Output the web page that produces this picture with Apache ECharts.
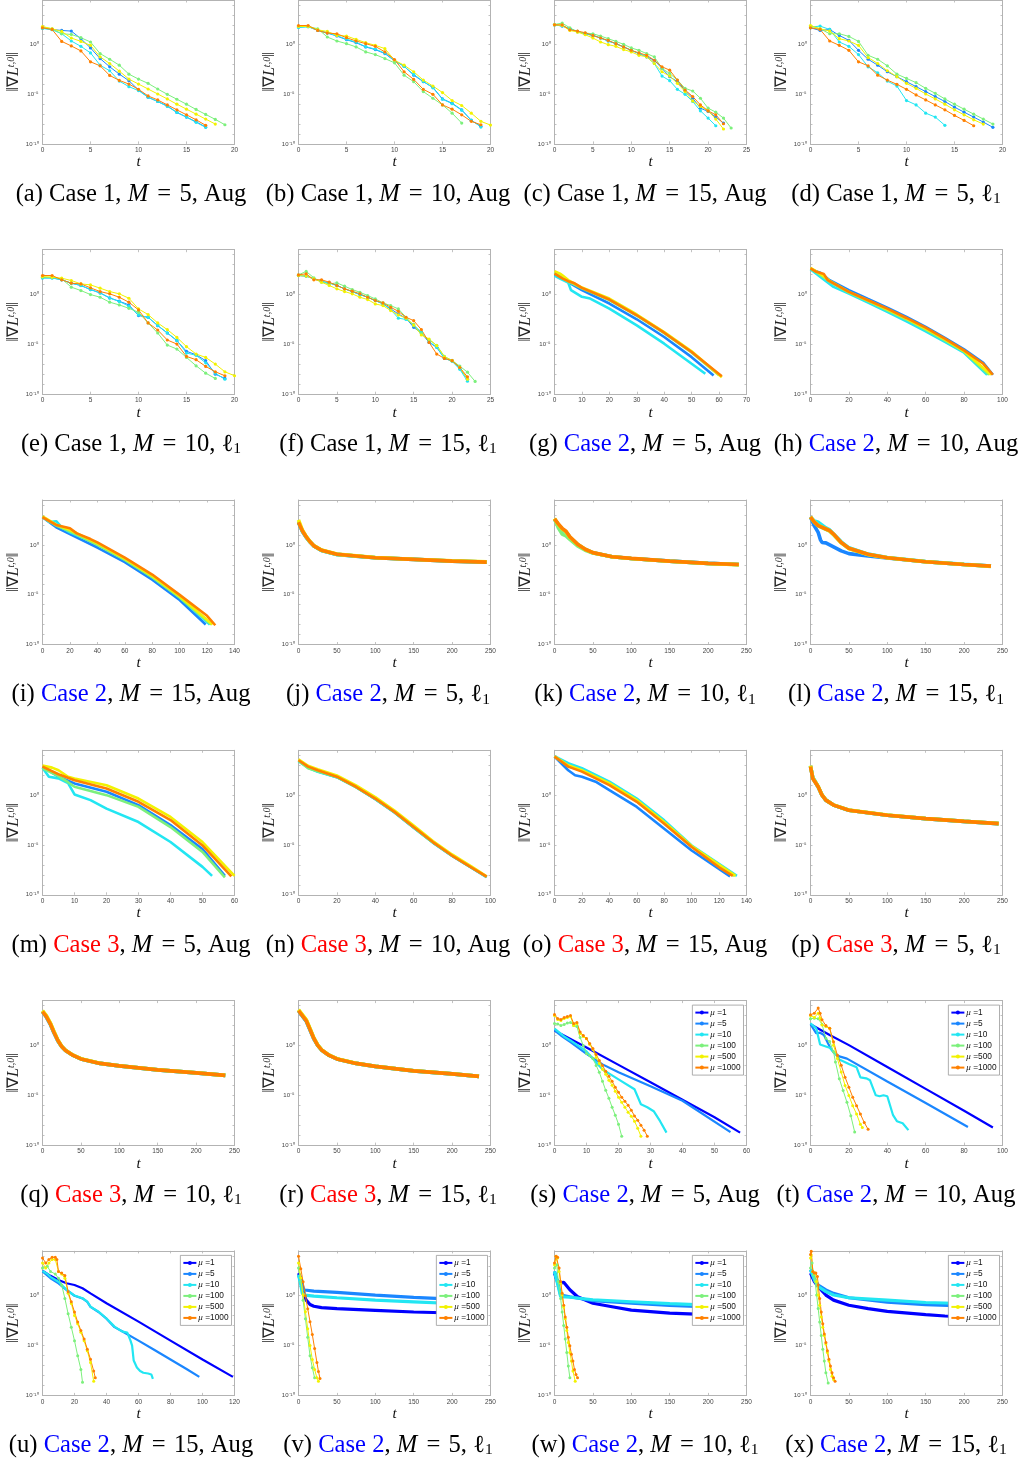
<!DOCTYPE html>
<html><head><meta charset="utf-8">
<script src="https://cdn.jsdelivr.net/npm/echarts/dist/echarts.min.js"></script>
<style>html,body{margin:0;padding:0;background:#fff}#c{width:1029px;height:1464px}</style>
</head><body><div id="c"></div>
<script>
// ---- values are log10 of ||grad L^{t,0}|| ; dense arrays: index = t ; pairs: [t, log10 value]
const yTickLabels = {'0':'10⁰','-5':'10⁻⁵','-10':'10⁻¹⁰'};
const muNames = ['μ =1','μ =5','μ =10','μ =100','μ =500','μ =1000'];

// (a)
const A_b=[1.67,1.53,1.43,1.37,0.6,-0.33,-1.4,-2.23,-2.97,-3.63,-4.57,-5.3,-5.73,-6.17,-6.83,-7.3,-7.77,-8.3];
const A_c=[1.63,1.5,1.1,0.37,-0.17,-0.83,-2.07,-2.63,-3.67,-4.23,-4.63,-5.3,-5.73,-6.23,-6.83,-7.3,-7.83,-8.33];
const A_g=[1.77,1.6,1.1,1.03,0.7,0.27,-0.9,-1.47,-2.07,-2.97,-3.47,-3.9,-4.47,-5.0,-5.5,-6.0,-6.53,-7.03,-7.53,-8.07];
const A_y=[1.83,1.6,1.33,0.67,0.33,-0.07,-1.23,-1.9,-2.67,-3.47,-3.97,-4.47,-4.97,-5.47,-6.0,-6.5,-7.0,-7.5,-8.0];
const A_o=[1.7,1.53,0.33,-0.13,-0.63,-1.73,-2.13,-3.1,-3.6,-3.97,-4.5,-5.17,-5.57,-6.07,-6.57,-7.07,-7.57,-8.13];
// (b)
const B_b=[1.77,1.83,1.43,1.17,0.87,0.5,0.2,-0.23,-0.5,-0.9,-1.63,-2.17,-3.07,-3.73,-4.3,-5.47,-5.9,-6.57,-7.63,-8.23];
const B_c=[1.73,1.8,1.45,1.2,0.9,0.55,0.25,-0.2,-0.45,-0.85,-1.6,-2.2,-3.0,-3.7,-4.35,-5.5,-5.95,-6.6,-7.6,-8.3];
const B_g=[1.87,1.83,1.6,0.77,0.37,0.1,-0.23,-0.73,-1.0,-1.4,-1.83,-3.07,-3.73,-4.73,-5.4,-6.07,-6.9,-7.9];
const B_y=[1.83,1.83,1.5,1.33,0.93,0.87,0.53,0.2,-0.07,-0.4,-1.57,-2.07,-2.73,-3.57,-4.17,-4.83,-5.63,-6.13,-6.9,-7.73,-8.1];
const B_o=[1.93,1.93,1.43,1.17,1.1,0.7,0.37,0.1,-0.17,-0.73,-1.5,-2.73,-3.5,-4.5,-5.0,-6.07,-6.5,-7.07,-7.73,-8.07];
// (c)
const C_b=[2.0,1.87,1.6,1.33,1.1,0.93,0.67,0.37,0.1,-0.23,-0.57,-0.9,-1.23,-1.57,-2.4,-3.23,-3.73,-4.63,-5.4,-6.4,-6.73,-7.3,-7.9];
const C_c=[1.97,1.9,1.6,1.33,1.1,0.93,0.67,0.37,0.1,-0.23,-0.57,-0.9,-1.23,-1.9,-3.17,-3.63,-4.5,-5.0,-5.73,-6.67,-7.4,-8.17];
const C_g=[2.03,2.17,1.7,1.27,1.17,1.1,0.87,0.6,0.33,0.03,-0.33,-0.57,-0.9,-1.23,-2.4,-2.9,-3.57,-4.4,-4.67,-5.4,-6.4,-6.8,-7.4,-8.4];
const C_y=[2.0,1.93,1.43,1.27,1.0,0.67,0.27,0.0,-0.17,-0.5,-0.73,-1.07,-1.23,-1.9,-2.73,-3.17,-3.9,-4.73,-5.67,-6.23,-6.67,-7.5,-8.5];
const C_o=[2.0,2.0,1.5,1.37,1.2,0.93,0.67,0.43,0.1,-0.23,-0.57,-0.83,-1.07,-1.57,-2.23,-2.57,-3.57,-4.57,-5.23,-6.07,-6.67,-7.07,-7.97];
// (d)
const D_b=[1.7,1.43,1.53,0.93,0.43,-0.57,-1.47,-2.07,-2.73,-3.23,-3.73,-4.23,-4.73,-5.23,-5.73,-6.3,-6.8,-7.3,-7.8,-8.33];
const D_c=[1.77,1.87,1.53,0.27,-0.17,-1.0,-2.23,-2.83,-3.67,-4.17,-5.63,-6.07,-6.9,-7.3,-8.13];
const D_g=[1.87,1.6,1.1,1.1,0.83,0.33,-1.07,-1.47,-2.13,-2.97,-3.4,-3.83,-4.4,-4.9,-5.47,-6.0,-6.5,-7.0,-7.5,-8.0];
const D_y=[1.93,1.6,1.37,0.6,0.37,-0.07,-1.3,-1.9,-2.63,-3.23,-3.9,-4.4,-4.97,-5.47,-6.0,-6.57,-7.07,-7.57,-8.0];
const D_o=[1.7,1.53,0.37,-0.07,-0.57,-1.73,-2.13,-3.07,-3.57,-4.0,-4.5,-5.07,-5.57,-6.07,-6.57,-7.13,-7.63,-8.17];
// (e)
const E_b=[1.68,1.68,1.48,1.14,0.91,0.5,0.17,-0.34,-0.67,-1.04,-2.11,-2.28,-3.12,-3.86,-4.63,-5.7,-6.04,-6.64,-7.99,-8.42];
const E_c=[1.65,1.65,1.48,1.14,0.9,0.5,0.15,-0.35,-0.7,-1.17,-2.05,-2.3,-3.1,-3.85,-4.6,-5.87,-6.1,-6.85,-7.9,-8.5];
const E_g=[1.74,1.74,1.58,0.74,0.4,0,-0.27,-0.77,-1.04,-1.38,-1.78,-2.85,-3.86,-5.07,-5.47,-6.31,-7.15,-7.89,-8.42];
const E_y=[1.81,1.74,1.64,1.41,1.07,0.97,0.64,0.3,0.07,-0.37,-1.44,-2.01,-2.85,-3.52,-4.3,-5.23,-5.97,-6.31,-6.98,-7.75,-8.15];
const E_o=[1.91,1.91,1.48,1.14,1.07,0.67,0.3,0.07,-0.27,-0.77,-1.54,-2.85,-3.56,-4.56,-4.97,-6.21,-6.54,-7.21,-7.75,-8.15];
// (f)
const F_b=[1.91,1.85,1.58,1.31,1.17,0.91,0.57,0.3,0,-0.27,-0.6,-0.94,-1.44,-1.95,-2.38,-3.29,-3.86,-4.8,-5.3,-6.41,-6.64,-7.42,-8.49];
const F_c=[1.91,1.85,1.58,1.31,1.17,0.91,0.57,0.3,0,-0.27,-0.6,-0.94,-1.5,-2.37,-2.5,-3.0,-3.8,-4.7,-5.3,-6.4,-6.7,-7.5,-8.7];
const F_g=[1.98,2.32,1.68,1.24,1.07,1.17,0.84,0.5,0.23,-0.1,-0.44,-0.84,-1.11,-1.44,-2.28,-3.12,-3.93,-4.53,-5.1,-6.21,-6.61,-7.18,-7.79,-8.72];
const F_y=[1.91,1.85,1.58,1.24,0.91,0.57,0.3,0.07,-0.27,-0.5,-0.94,-1.11,-1.61,-2.05,-2.38,-3.05,-4.06,-4.46,-5.13,-6.24,-6.64,-7.32,-8.49];
const F_o=[1.98,2.08,1.48,1.48,1.24,0.91,0.57,0.34,0.07,-0.27,-0.6,-0.84,-1.28,-1.68,-2.28,-2.62,-3.52,-4.8,-5.97,-6.41,-6.64,-7.32,-8.26];
// (g)
const G_b=[[0,2.0],[3,1.6],[5,1.25],[10,0.44],[20,-0.9],[30,-2.48],[40,-4.26],[50,-6.28],[58,-8.12]];
const G_c=[[0,1.9],[2,1.6],[5,1.2],[6,0.44],[10,-0.23],[13,-0.4],[20,-1.41],[30,-3.09],[40,-4.93],[50,-6.95],[55,-7.95]];
const G_g=[[0,2.2],[3,1.65],[5,1.3],[10,0.62],[20,-0.55],[30,-2.12],[40,-3.88],[50,-5.82],[60,-8.1]];
const G_y=[[0,2.35],[2,2.1],[3,1.9],[5,1.45],[10,0.7],[20,-0.4],[30,-2.0],[40,-3.76],[50,-5.7],[61,-8.29]];
const G_o=[[0,2.1],[3,1.6],[5,1.34],[7,1.17],[10,0.67],[20,-0.5],[30,-2.08],[40,-3.83],[50,-5.77],[61,-8.19]];
// (h)
const H_b=[[0,2.55],[5,2.2],[10,1.44],[20,0.44],[30,-0.45],[40,-1.31],[50,-2.25],[60,-3.25],[70,-4.35],[80,-5.5],[90,-6.85],[95,-8.05]];
const H_c=[[0,2.55],[5,1.78],[12,0.77],[20,0.1],[30,-0.8],[40,-1.74],[50,-2.7],[60,-3.69],[70,-4.75],[80,-5.84],[92,-8.05]];
const H_g=[[0,2.62],[5,2.0],[10,1.3],[20,0.2],[30,-0.65],[40,-1.58],[50,-2.5],[60,-3.52],[70,-4.6],[80,-5.74],[93,-8.05]];
const H_y=[[0,2.68],[5,2.1],[10,1.38],[20,0.27],[30,-0.6],[40,-1.48],[50,-2.42],[60,-3.42],[70,-4.5],[80,-5.67],[94,-8.05]];
const H_o=[[0,2.62],[3,2.28],[7,2.05],[9,1.44],[12,1.11],[20,0.27],[30,-0.57],[40,-1.41],[50,-2.35],[60,-3.32],[70,-4.43],[80,-5.6],[90,-6.95],[95,-8.05]];
// (i)
const I_b=[[0,2.78],[10,1.76],[20,1.08],[40,-0.27],[60,-1.73],[80,-3.49],[100,-5.53],[119,-8.0]];
const I_c=[[0,2.85],[5,2.3],[10,2.37],[14,1.76],[20,1.25],[40,0.07],[60,-1.46],[80,-3.22],[100,-5.25],[122,-8.0]];
const I_g=[[0,2.78],[10,1.93],[20,1.36],[40,0.0],[60,-1.5],[80,-3.25],[100,-5.29],[123,-8.0]];
const I_y=[[0,2.85],[10,2.03],[20,1.49],[40,0.14],[60,-1.39],[80,-3.12],[100,-5.15],[124,-8.0]];
const I_o=[[0,2.78],[5,2.37],[10,2.0],[20,1.66],[25,1.15],[35,0.58],[40,0.24],[60,-1.29],[80,-2.98],[100,-5.02],[120,-7.12],[126,-8.07]];
// (j)
const J_b=[[0,2.25],[5,1.35],[10,0.76],[15,0.28],[20,-0.12],[30,-0.56],[50,-0.96],[75,-1.13],[100,-1.3],[150,-1.46],[200,-1.63],[245,-1.73]];
const J_c=[[0,2.3],[5,1.4],[10,0.8],[15,0.3],[20,-0.1],[30,-0.55],[50,-0.96],[75,-1.12],[100,-1.28],[150,-1.45],[200,-1.62],[245,-1.72]];
const J_g=[[0,2.35],[5,1.38],[10,0.78],[15,0.28],[20,-0.12],[30,-0.56],[50,-0.97],[75,-1.13],[100,-1.3],[150,-1.47],[200,-1.64],[245,-1.74]];
const J_y=[[0,2.5],[5,1.5],[10,0.85],[15,0.33],[20,-0.08],[30,-0.52],[50,-0.93],[75,-1.1],[100,-1.27],[150,-1.44],[200,-1.6],[245,-1.7]];
const J_o=[[0,2.27],[5,1.42],[10,0.81],[15,0.31],[20,-0.1],[30,-0.54],[50,-0.95],[75,-1.12],[100,-1.29],[150,-1.46],[200,-1.63],[245,-1.73]];
// (k)
const K_b=[[0,2.58],[5,2.02],[10,1.58],[15,1.28],[20,0.76],[30,0.04],[40,-0.46],[50,-0.8],[75,-1.2],[100,-1.37],[150,-1.63],[200,-1.86],[240,-1.97]];
const K_c=[[0,2.58],[5,2.0],[10,1.55],[15,1.25],[20,0.75],[30,0.03],[40,-0.46],[50,-0.8],[75,-1.2],[100,-1.37],[150,-1.63],[200,-1.86],[240,-1.97]];
const K_g=[[0,2.61],[5,1.7],[10,1.08],[15,0.9],[20,0.55],[30,-0.1],[40,-0.54],[50,-0.82],[75,-1.2],[100,-1.37],[150,-1.64],[200,-1.87],[240,-1.98]];
const K_y=[[0,2.65],[5,2.05],[10,1.6],[15,1.3],[20,0.78],[30,0.05],[40,-0.45],[50,-0.79],[75,-1.2],[100,-1.37],[150,-1.64],[200,-1.87],[240,-1.98]];
const K_o=[[0,2.61],[5,2.1],[10,1.66],[15,1.36],[20,0.81],[30,0.07],[40,-0.44],[50,-0.78],[75,-1.19],[100,-1.36],[150,-1.63],[200,-1.86],[240,-1.97]];
// (l)
const L_b=[[0,2.78],[5,1.9],[10,1.25],[13,0.5],[15,0.24],[20,0.2],[25,0.0],[30,-0.2],[40,-0.61],[50,-0.88],[75,-1.12],[100,-1.32],[150,-1.69],[200,-1.97],[235,-2.14]];
const L_c=[[0,2.78],[5,2.4],[10,2.27],[20,1.7],[25,1.5],[30,1.1],[40,0.3],[50,-0.3],[75,-0.93],[100,-1.28],[150,-1.68],[200,-1.96],[235,-2.12]];
const L_g=[[0,2.75],[5,2.25],[10,1.9],[20,1.55],[25,1.38],[30,1.02],[40,0.2],[50,-0.36],[75,-0.97],[100,-1.3],[150,-1.7],[200,-1.98],[235,-2.16]];
const L_y=[[0,2.8],[5,2.3],[10,1.95],[20,1.6],[25,1.4],[30,1.05],[40,0.22],[50,-0.36],[75,-0.96],[100,-1.3],[150,-1.7],[200,-1.98],[235,-2.15]];
const L_o=[[0,2.78],[5,2.27],[10,1.93],[20,1.59],[25,1.42],[30,1.08],[40,0.24],[50,-0.34],[75,-0.95],[100,-1.29],[150,-1.69],[200,-1.97],[235,-2.14]];
// (m)
const M_b=[[0,2.86],[5,1.85],[10,1.18],[20,0.34],[30,-1.0],[40,-3.0],[50,-5.4],[57,-8.1]];
const M_c=[[0,2.75],[2,1.85],[5,1.68],[8,1.2],[10,0.07],[15,-0.5],[20,-1.35],[30,-2.7],[40,-4.7],[50,-7.2],[53,-8.1]];
const M_g=[[0,2.7],[5,1.9],[8,1.3],[10,0.84],[20,0],[30,-1.18],[40,-3.2],[50,-5.7],[57,-8.25]];
const M_y=[[0,2.96],[3,2.76],[5,2.5],[8,1.85],[10,1.68],[20,1.0],[30,-0.34],[40,-2.19],[50,-4.71],[60,-8.1]];
const M_o=[[0,2.86],[5,2.1],[10,1.5],[20,0.67],[30,-0.67],[40,-2.5],[50,-5.05],[59,-8.15]];
// (n)
const N_b=[[0,3.45],[5,2.8],[10,2.4],[20,1.8],[30,0.8],[40,-0.4],[50,-1.74],[60,-3.26],[70,-4.76],[80,-6.1],[90,-7.28],[98,-8.22]];
const N_c=[[0,3.4],[5,2.75],[10,2.35],[20,1.8],[30,0.8],[40,-0.38],[50,-1.72],[60,-3.24],[70,-4.74],[80,-6.08],[90,-7.26],[98,-8.2]];
const N_g=[[0,3.45],[5,2.7],[10,2.4],[20,1.82],[30,0.8],[40,-0.38],[50,-1.72],[60,-3.24],[70,-4.74],[80,-6.08],[90,-7.26],[98,-8.2]];
const N_y=[[0,3.6],[5,2.95],[10,2.6],[20,1.97],[30,0.97],[40,-0.2],[50,-1.55],[60,-3.05],[70,-4.6],[80,-5.95],[90,-7.15],[98,-8.15]];
const N_o=[[0,3.5],[5,2.86],[10,2.5],[20,1.85],[30,0.84],[40,-0.34],[50,-1.68],[60,-3.2],[70,-4.71],[80,-6.06],[90,-7.24],[98,-8.18]];
// (o)
const O_b=[[0,3.87],[10,2.5],[15,2.0],[20,1.85],[30,1.35],[40,0.5],[60,-1.18],[80,-3.37],[100,-5.55],[128,-8.15]];
const O_c=[[0,3.9],[10,3.2],[20,2.7],[40,1.35],[60,-0.34],[80,-2.53],[100,-5.05],[133,-8.1]];
const O_g=[[0,3.85],[10,2.9],[20,2.45],[40,1.1],[60,-0.6],[80,-2.8],[100,-5.15],[131,-8.1]];
const O_y=[[0,3.9],[10,3.0],[20,2.5],[40,1.2],[60,-0.5],[80,-2.7],[100,-5.1],[132,-8.1]];
const O_o=[[0,3.87],[5,3.37],[10,2.86],[20,2.36],[40,1.0],[60,-0.67],[80,-2.86],[100,-5.2],[120,-7.24],[130,-8.1]];
// (p)
const P_b=[[0,2.9],[3,1.7],[5,1.5],[10,0.82],[15,0],[20,-0.5],[30,-1.0],[50,-1.52],[100,-2.02],[150,-2.36],[200,-2.63],[245,-2.86]];
const P_c=[[0,2.9],[3,1.75],[5,1.52],[10,0.84],[15,0.02],[20,-0.5],[30,-1.0],[50,-1.52],[100,-2.02],[150,-2.36],[200,-2.63],[245,-2.86]];
const P_g=[[0,2.95],[3,1.72],[5,1.5],[10,0.84],[15,0],[20,-0.5],[30,-1.0],[50,-1.52],[100,-2.02],[150,-2.36],[200,-2.63],[245,-2.86]];
const P_y=[[0,2.95],[3,1.7],[5,1.5],[10,0.86],[15,0.02],[20,-0.48],[30,-0.98],[50,-1.5],[100,-2.0],[150,-2.35],[200,-2.62],[245,-2.85]];
const P_o=[[0,2.86],[3,1.68],[5,1.5],[10,0.84],[15,0],[20,-0.5],[30,-1.0],[50,-1.52],[100,-2.02],[150,-2.36],[200,-2.63],[245,-2.86]];
// (q)
const Q_b=[[0,3.4],[5,2.85],[10,2.15],[15,1.25],[20,0.45],[25,-0.12],[30,-0.5],[40,-1.0],[50,-1.35],[75,-1.8],[100,-2.05],[150,-2.45],[200,-2.75],[238,-3.0]];
const Q_c=[[0,3.4],[5,2.9],[10,2.2],[15,1.3],[20,0.5],[25,-0.1],[30,-0.5],[40,-1.0],[50,-1.35],[75,-1.8],[100,-2.05],[150,-2.45],[200,-2.75],[238,-3.0]];
const Q_g=[[0,3.45],[5,2.95],[10,2.25],[15,1.35],[20,0.5],[25,-0.1],[30,-0.5],[40,-1.0],[50,-1.35],[75,-1.8],[100,-2.05],[150,-2.45],[200,-2.75],[238,-3.0]];
const Q_y=[[0,3.5],[5,3.0],[10,2.3],[15,1.4],[20,0.55],[25,-0.08],[30,-0.48],[40,-0.98],[50,-1.33],[75,-1.78],[100,-2.04],[150,-2.44],[200,-2.74],[238,-3.0]];
const Q_o=[[0,3.4],[5,2.9],[10,2.2],[15,1.3],[20,0.5],[25,-0.1],[30,-0.5],[40,-1.0],[50,-1.35],[75,-1.8],[100,-2.05],[150,-2.45],[200,-2.75],[238,-3.0]];
// (r)
const R_b=[[0,3.5],[5,2.95],[10,2.45],[15,1.55],[20,0.65],[25,0.0],[30,-0.45],[40,-1.0],[50,-1.35],[75,-1.8],[100,-2.1],[150,-2.55],[200,-2.85],[235,-3.1]];
const R_c=[[0,3.5],[5,3.0],[10,2.5],[15,1.6],[20,0.7],[25,0.02],[30,-0.45],[40,-1.0],[50,-1.35],[75,-1.8],[100,-2.1],[150,-2.55],[200,-2.85],[235,-3.1]];
const R_g=[[0,3.55],[5,3.05],[10,2.55],[15,1.65],[20,0.72],[25,0.02],[30,-0.45],[40,-1.0],[50,-1.35],[75,-1.8],[100,-2.1],[150,-2.55],[200,-2.85],[235,-3.1]];
const R_y=[[0,3.6],[5,3.1],[10,2.6],[15,1.7],[20,0.75],[25,0.05],[30,-0.43],[40,-0.98],[50,-1.33],[75,-1.78],[100,-2.08],[150,-2.54],[200,-2.84],[235,-3.1]];
const R_o=[[0,3.5],[5,3.0],[10,2.5],[15,1.6],[20,0.7],[25,0.0],[30,-0.45],[40,-1.0],[50,-1.35],[75,-1.8],[100,-2.1],[150,-2.55],[200,-2.85],[235,-3.1]];
// (s)
const S_1=[[0,1.5],[10,-0.2],[20,-1.95],[30,-3.7],[40,-5.45],[50,-7.2],[58,-8.75]];
const S_5=[[0,1.5],[2,1.0],[5,0.34],[10,-0.84],[15,-1.9],[20,-2.7],[30,-4.1],[40,-5.55],[55,-8.7]];
const S_10=[[0,1.68],[3,0.9],[5,0.5],[10,-0.6],[13,-1.7],[15,-2.4],[20,-3.4],[25,-4.4],[27,-5.9],[29,-6.2],[30,-6.4],[31,-6.6],[33,-7.6],[35,-8.75]];
const S_100=[[0,2.2],[1,2.15],[2,2.0],[3,2.1],[4,2.25],[5,2.3],[6,2.0],[7,1.9],[8,0.8],[9,0.0],[10,-0.8],[11,-1.0],[12,-1.3],[13,-2.0],[14,-2.7],[15,-3.6],[16,-4.5],[17,-5.3],[18,-6.2],[19,-7.0],[20,-7.9],[21,-9.1]];
const S_500=[[0,3.0],[1,2.6],[2,2.5],[3,2.7],[4,2.8],[5,2.9],[6,2.0],[7,2.2],[8,1.2],[9,0.9],[10,0.67],[11,0.1],[12,-0.4],[13,-1.2],[14,-1.8],[15,-2.4],[16,-2.9],[17,-3.5],[18,-4.0],[19,-4.6],[20,-5.2],[21,-5.7],[22,-6.2],[23,-6.7],[24,-7.1],[25,-7.6],[26,-8.3],[27,-9.1]];
const S_1000=[[0,3.1],[1,2.7],[2,2.6],[3,2.8],[4,2.9],[5,3.0],[6,2.2],[7,2.3],[8,1.35],[9,1.0],[10,0.7],[11,0.2],[12,-0.3],[13,-0.9],[14,-1.5],[15,-2.0],[16,-2.6],[17,-3.1],[18,-3.6],[19,-4.2],[20,-4.7],[21,-5.2],[22,-5.6],[23,-6.0],[24,-6.5],[25,-7.07],[26,-7.5],[27,-8.0],[28,-8.5],[29,-9.1]];
// (t)
const T_1=[[0,2.13],[10,1.05],[20,0.03],[40,-2.16],[60,-4.36],[80,-6.55],[95,-8.24]];
const T_5=[[0,2.13],[3,1.22],[5,1.28],[7,1.05],[10,-0.14],[12,-0.7],[15,-1.1],[19,-1.32],[40,-3.61],[60,-5.78],[82,-8.18]];
const T_10=[[0,2.23],[3,1.72],[5,0.1],[8,-0.1],[10,-0.24],[13,-0.85],[15,-1.4],[20,-1.85],[24,-2.2],[26,-3.2],[29,-3.3],[31,-3.5],[34,-5.0],[36,-5.1],[38,-5.0],[40,-5.1],[43,-7.0],[45,-7.6],[48,-7.8],[51,-8.5]];
const T_100=[[0,2.67],[2,2.74],[4,2.67],[6,2.13],[8,0.71],[10,0.4],[12,-0.64],[13,-1.66],[15,-3.34],[17,-4.53],[19,-5.71],[21,-7.06],[23,-8.68]];
const T_500=[[0,3.0],[2,2.8],[4,3.24],[5,2.74],[6,2.06],[8,1.89],[10,1.72],[12,0.03],[14,-1.32],[16,-2.67],[18,-4.02],[20,-5.03],[22,-6.05],[24,-6.89],[26,-7.91],[27,-8.24]];
const T_1000=[[0,3.07],[2,3.24],[4,3.75],[5,3.24],[6,2.57],[8,2.0],[10,1.72],[12,0.37],[14,-0.98],[16,-1.99],[18,-3.18],[20,-4.19],[22,-5.2],[24,-6.05],[26,-6.89],[28,-7.74],[30,-8.41]];
// (u)
const U_1=[[0,2.51],[5,2.0],[10,1.59],[15,1.25],[20,1.08],[25,0.75],[30,0.24],[40,-0.75],[60,-2.6],[80,-4.5],[100,-6.4],[119,-8.14]];
const U_5=[[0,2.44],[5,1.76],[10,1.25],[15,0.58],[20,0.0],[25,-0.27],[28,-0.61],[30,-1.12],[35,-1.63],[40,-2.3],[45,-3.15],[50,-3.59],[60,-4.5],[70,-5.45],[80,-6.4],[90,-7.35],[98,-8.14]];
const U_10=[[0,2.5],[3,2.2],[5,1.9],[10,1.4],[15,0.6],[20,0.02],[25,-0.25],[28,-0.6],[30,-1.1],[35,-1.6],[40,-2.28],[45,-3.1],[50,-3.6],[53,-3.7],[55,-4.5],[56,-5.0],[57,-6.5],[58,-6.7],[59,-7.2],[61,-7.56],[63,-7.73],[66,-7.8],[68,-7.9],[69,-8.34]];
const U_100=[[0,2.78],[3,2.95],[5,2.44],[8,2.17],[10,1.76],[12,1.08],[14,-0.27],[16,-1.8],[18,-3.15],[20,-4.51],[22,-6.03],[24,-7.39],[25,-8.68]];
const U_500=[[0,3.29],[2,2.78],[4,3.29],[6,3.63],[8,3.63],[10,2.44],[12,2.17],[14,1.76],[16,0.24],[18,-0.78],[20,-1.97],[22,-2.81],[24,-3.66],[26,-4.51],[28,-5.53],[30,-6.71],[32,-8.58]];
const U_1000=[[0,3.8],[2,3.29],[4,3.63],[6,3.86],[8,3.86],[9,3.63],[10,2.44],[12,2.27],[14,2.03],[16,0.41],[18,-0.61],[20,-1.63],[22,-2.64],[24,-3.49],[26,-4.34],[28,-5.36],[30,-6.37],[32,-7.56],[33,-8.24]];
// (v)
const V_1=[[0,2.27],[3,1.76],[5,1.08],[8,-0.1],[10,-0.44],[15,-0.88],[20,-1.05],[30,-1.19],[50,-1.29],[100,-1.46],[150,-1.63],[200,-1.73],[245,-1.8]];
const V_5=[[0,2.1],[3,1.42],[5,0.75],[8,0.58],[20,0.47],[50,0.34],[100,0.07],[150,-0.17],[200,-0.34],[245,-0.44]];
const V_10=[[0,2.1],[3,1.08],[5,0.24],[8,0.07],[20,-0.03],[50,-0.2],[100,-0.44],[150,-0.61],[200,-0.78],[245,-0.88]];
const V_100=[[0,2.78],[3,1.42],[6,-0.44],[9,-2.3],[12,-4.17],[15,-6.03],[18,-7.22],[21,-8.24]];
const V_500=[[0,3.29],[3,1.8],[6,0.1],[9,-1.6],[12,-3.3],[15,-5.0],[18,-6.4],[21,-7.4],[24,-8.24],[26,-8.58]];
const V_1000=[[0,3.97],[3,2.7],[6,1.4],[9,0.0],[12,-1.3],[15,-2.6],[18,-3.9],[21,-5.3],[24,-6.7],[26,-7.6],[28,-8.3]];
// (w)
const W_1=[[0,2.27],[3,1.6],[7,1.3],[12,1.35],[20,0.6],[30,-0.1],[50,-0.75],[75,-1.1],[100,-1.45],[150,-1.75],[200,-1.9],[245,-2.0]];
const W_5=[[0,2.44],[5,1.08],[8,0.07],[20,-0.1],[50,-0.5],[100,-0.75],[150,-0.98],[200,-1.12],[245,-1.25]];
const W_10=[[0,2.44],[5,0.9],[8,-0.1],[20,-0.15],[50,-0.4],[100,-0.6],[150,-0.8],[200,-0.95],[245,-1.05]];
const W_100=[[0,2.78],[3,3.1],[5,1.42],[8,-0.27],[10,-1.63],[12,-2.98],[14,-4.34],[16,-5.69],[18,-7.05],[20,-8.24]];
const W_500=[[0,3.12],[2,3.97],[4,3.8],[6,2.44],[8,1.25],[10,0.07],[12,-1.12],[14,-2.3],[16,-3.49],[18,-4.68],[20,-5.69],[22,-6.54],[24,-7.56],[27,-8.58]];
const W_1000=[[0,3.29],[2,3.97],[4,3.86],[6,2.78],[8,1.42],[10,0.24],[12,-0.95],[14,-2.14],[16,-3.15],[18,-4.17],[20,-5.02],[22,-5.86],[24,-6.54],[26,-7.39],[28,-7.9],[30,-8.24]];
// (x)
const X_1=[[0,2.27],[5,1.42],[10,0.92],[20,0.07],[30,-0.44],[50,-0.95],[75,-1.29],[100,-1.56],[150,-1.9],[175,-2.03],[245,-2.24]];
const X_5=[[0,2.61],[5,1.76],[10,1.08],[20,0.58],[30,0.24],[50,-0.2],[100,-0.65],[150,-0.9],[245,-1.15]];
const X_10=[[0,2.61],[5,1.6],[10,0.92],[20,0.41],[30,0.07],[50,-0.2],[100,-0.44],[150,-0.68],[245,-0.88]];
const X_100=[[0,2.78],[2,3.29],[4,2.1],[6,1.42],[8,0.07],[10,-1.29],[12,-2.64],[14,-4.0],[16,-5.36],[18,-6.54],[20,-7.73],[23,-8.75]];
const X_500=[[0,3.8],[1,4.1],[3,2.44],[6,2.27],[8,1.42],[10,0.07],[12,-0.95],[14,-2.14],[16,-3.15],[18,-4.0],[20,-4.85],[22,-5.69],[24,-6.54],[26,-7.39],[28,-8.07],[30,-8.4]];
const X_1000=[[0,4.14],[1,4.47],[3,2.44],[5,2.27],[7,2.27],[9,1.93],[10,1.08],[12,-0.27],[14,-1.63],[16,-2.81],[18,-3.83],[20,-4.68],[22,-5.53],[24,-6.37],[26,-7.05],[28,-7.73],[30,-8.24],[32,-8.58]];

// ---- panel descriptions: [letter, case, M, method, xMax, xInterval, style, series...]
const panels = [
 ['a',1,5,'Aug',20,5,'dense',[A_b,A_c,A_g,A_y,A_o]],
 ['b',1,10,'Aug',20,5,'dense',[B_b,B_c,B_g,B_y,B_o]],
 ['c',1,15,'Aug',25,5,'dense',[C_b,C_c,C_g,C_y,C_o]],
 ['d',1,5,'l1',20,5,'dense',[D_b,D_c,D_g,D_y,D_o]],
 ['e',1,10,'l1',20,5,'dense',[E_b,E_c,E_g,E_y,E_o]],
 ['f',1,15,'l1',25,5,'dense',[F_b,F_c,F_g,F_y,F_o]],
 ['g',2,5,'Aug',70,10,'thick',[G_b,G_c,G_g,G_y,G_o]],
 ['h',2,10,'Aug',100,20,'thick',[H_b,H_c,H_g,H_y,H_o]],
 ['i',2,15,'Aug',140,20,'thick',[I_b,I_c,I_g,I_y,I_o]],
 ['j',2,5,'l1',250,50,'thicker',[J_b,J_c,J_g,J_y,J_o]],
 ['k',2,10,'l1',250,50,'thicker',[K_b,K_c,K_g,K_y,K_o]],
 ['l',2,15,'l1',250,50,'thicker',[L_b,L_c,L_g,L_y,L_o]],
 ['m',3,5,'Aug',60,10,'thick',[M_b,M_c,M_g,M_y,M_o]],
 ['n',3,10,'Aug',100,20,'thick',[N_b,N_c,N_g,N_y,N_o]],
 ['o',3,15,'Aug',140,20,'thick',[O_b,O_c,O_g,O_y,O_o]],
 ['p',3,5,'l1',250,50,'thicker',[P_b,P_c,P_g,P_y,P_o]],
 ['q',3,10,'l1',250,50,'thicker',[Q_b,Q_c,Q_g,Q_y,Q_o]],
 ['r',3,15,'l1',250,50,'thicker',[R_b,R_c,R_g,R_y,R_o]],
 ['s',2,5,'Aug',60,10,'mu',[S_1,S_5,S_10,S_100,S_500,S_1000]],
 ['t',2,10,'Aug',100,20,'mu',[T_1,T_5,T_10,T_100,T_500,T_1000]],
 ['u',2,15,'Aug',120,20,'mu',[U_1,U_5,U_10,U_100,U_500,U_1000]],
 ['v',2,5,'l1',250,50,'muLong',[V_1,V_5,V_10,V_100,V_500,V_1000]],
 ['w',2,10,'l1',250,50,'muLong',[W_1,W_5,W_10,W_100,W_500,W_1000]],
 ['x',2,15,'l1',250,50,'muLong',[X_1,X_5,X_10,X_100,X_500,X_1000]]
];

const COLORS = ['#0000ff','#1a86ff','#22e6f2','#7cf07c','#f2f200','#ff8000'];
const AX = '#b3b3b3';
const SERIF = 'Liberation Serif';
const SANS = 'Liberation Sans';
const COL_LEFT = [42.5, 298.5, 554.5, 810.5];
const PW = 192, PH = 144.5, ROW_PITCH = 250.3, ROW0 = -0.6;
const CAP_X = [131, 388, 645, 896];
const EQ = '\u2004=\u2004';

const grids=[], xAxes=[], yAxes=[], series=[], titles=[], legends=[];
panels.forEach((p,i)=>{
  const [id,cs,M,meth,xMax,xInt,style,data] = p;
  const r=Math.floor(i/4), c=i%4;
  const left=COL_LEFT[c], top=ROW0 + r*ROW_PITCH;
  grids.push({left:left, top:top, width:PW, height:PH, show:false});
  const lineAx = {show:true, onZero:false, lineStyle:{color:AX, width:1}};
  const tick = {show:true, inside:true, length:2.5, lineStyle:{color:AX, width:0.8}};
  xAxes.push({gridIndex:i, type:'value', min:0, max:xMax, interval:xInt, position:'bottom',
    axisLine:lineAx, axisTick:tick, splitLine:{show:false},
    axisLabel:{fontSize:6.5, color:'#444', margin:3, fontFamily:SANS},
    name:'t', nameLocation:'middle', nameGap:11,
    nameTextStyle:{fontFamily:SERIF, fontStyle:'italic', fontSize:15, color:'#111'}});
  xAxes.push({gridIndex:i, type:'value', min:0, max:xMax, interval:xInt, position:'top',
    axisLine:lineAx, axisTick:tick, splitLine:{show:false}, axisLabel:{show:false}});
  yAxes.push({gridIndex:i, type:'value', min:-10, max:4.5, interval:1, position:'left',
    axisLine:lineAx, axisTick:{show:true, inside:true, length:2, lineStyle:{color:AX, width:0.8}},
    splitLine:{show:false},
    axisLabel:{fontSize:6, color:'#444', margin:4, fontFamily:SANS, showMaxLabel:false,
      formatter:v=>yTickLabels[String(Math.round(v*1000)/1000)]||''},
    name:'{n|‖∇}{i|L}{s|t,0}{n|‖}', nameLocation:'middle', nameGap:14, nameRotate:90,
    nameTextStyle:{color:'#222', fontFamily:SERIF, fontSize:16,
      rich:{n:{fontFamily:SERIF,fontSize:16,color:'#222'},
            i:{fontFamily:SERIF,fontSize:16,fontStyle:'italic',color:'#222'},
            s:{fontFamily:SERIF,fontSize:10,fontStyle:'italic',verticalAlign:'top',color:'#222'}}}});
  yAxes.push({gridIndex:i, type:'value', min:-10, max:4.5, interval:1, position:'right',
    axisLine:lineAx, axisTick:{show:true, inside:true, length:2, lineStyle:{color:AX, width:0.8}},
    splitLine:{show:false}, axisLabel:{show:false}});

  const isMu = style==='mu' || style==='muLong';
  const colorIdx = isMu ? [0,1,2,3,4,5] : [1,2,3,4,5];
  data.forEach((arr,k)=>{
    const ci = colorIdx[k];
    const pts = typeof arr[0]==='number' ? arr.map((v,t)=>[t,v]) : arr;
    let lw=1, show=true, sym=3.2;
    if (style==='thick') { lw=2.6; show=false; }
    else if (style==='thicker') { lw=3.6; show=false; }
    else if (isMu) {
      if (k<3) { lw = style==='mu' ? 2.2 : 3.2; show=false; }
      else { lw=1; show=true; sym=3; }
    }
    series.push({type:'line', name:muNames[ci], xAxisIndex:2*i, yAxisIndex:2*i, data:pts,
      symbol:'circle', symbolSize:sym, showSymbol:show, silent:true,
      lineStyle:{color:COLORS[ci], width:lw}, itemStyle:{color:COLORS[ci]},
      emphasis:{disabled:true}, animation:false});
  });

  if (isMu) {
    legends.push({orient:'vertical', right: 1029-(left+PW)+3, top: top+4.5, data: muNames,
      itemWidth:13, itemHeight:5, itemGap:2, padding:[3,3,3,2],
      backgroundColor:'#fff', borderColor:'#9a9a9a', borderWidth:0.8, borderRadius:0,
      textStyle:{fontSize:8.3, color:'#111', fontFamily:SANS, padding:[0,0,0,-3],
        rich:{m:{fontFamily:SERIF, fontStyle:'italic', fontSize:9, color:'#111'}}},
      formatter:n=>'{m|μ}'+n.slice(1), selectedMode:false});
  }

  const caseKey = cs===1 ? 'n' : (cs===2 ? 'b' : 'r');
  const methTxt = meth==='Aug' ? '{n|Aug}' : '{n|ℓ}{sub|1}';
  const FS = 24.6;
  titles.push({left: CAP_X[c], top: top + 182.5, textAlign:'center', padding:0,
    text:'{n|('+id+') }{'+caseKey+'|Case '+cs+'}{n|, }{i|M}{n|'+EQ+M+', }'+methTxt,
    textStyle:{fontFamily:SERIF, fontSize:FS, fontWeight:'normal', color:'#000',
      rich:{n:{fontFamily:SERIF,fontSize:FS,fontWeight:'normal',color:'#000'},
            i:{fontFamily:SERIF,fontSize:FS,fontStyle:'italic',fontWeight:'normal',color:'#000',padding:[0,1,0,0]},
            b:{fontFamily:SERIF,fontSize:FS,fontWeight:'normal',color:'#0000ff'},
            r:{fontFamily:SERIF,fontSize:FS,fontWeight:'normal',color:'#ff0000'},
            sub:{fontFamily:SERIF,fontSize:15.5,fontWeight:'normal',color:'#000',verticalAlign:'bottom'}}}});
});

const chart = echarts.init(document.getElementById('c'), null, {renderer:'canvas'});
chart.setOption({animation:false, backgroundColor:'#fff', grid:grids, xAxis:xAxes, yAxis:yAxes,
  series:series, title:titles, legend:legends, tooltip:{show:false}});
</script></body></html>
